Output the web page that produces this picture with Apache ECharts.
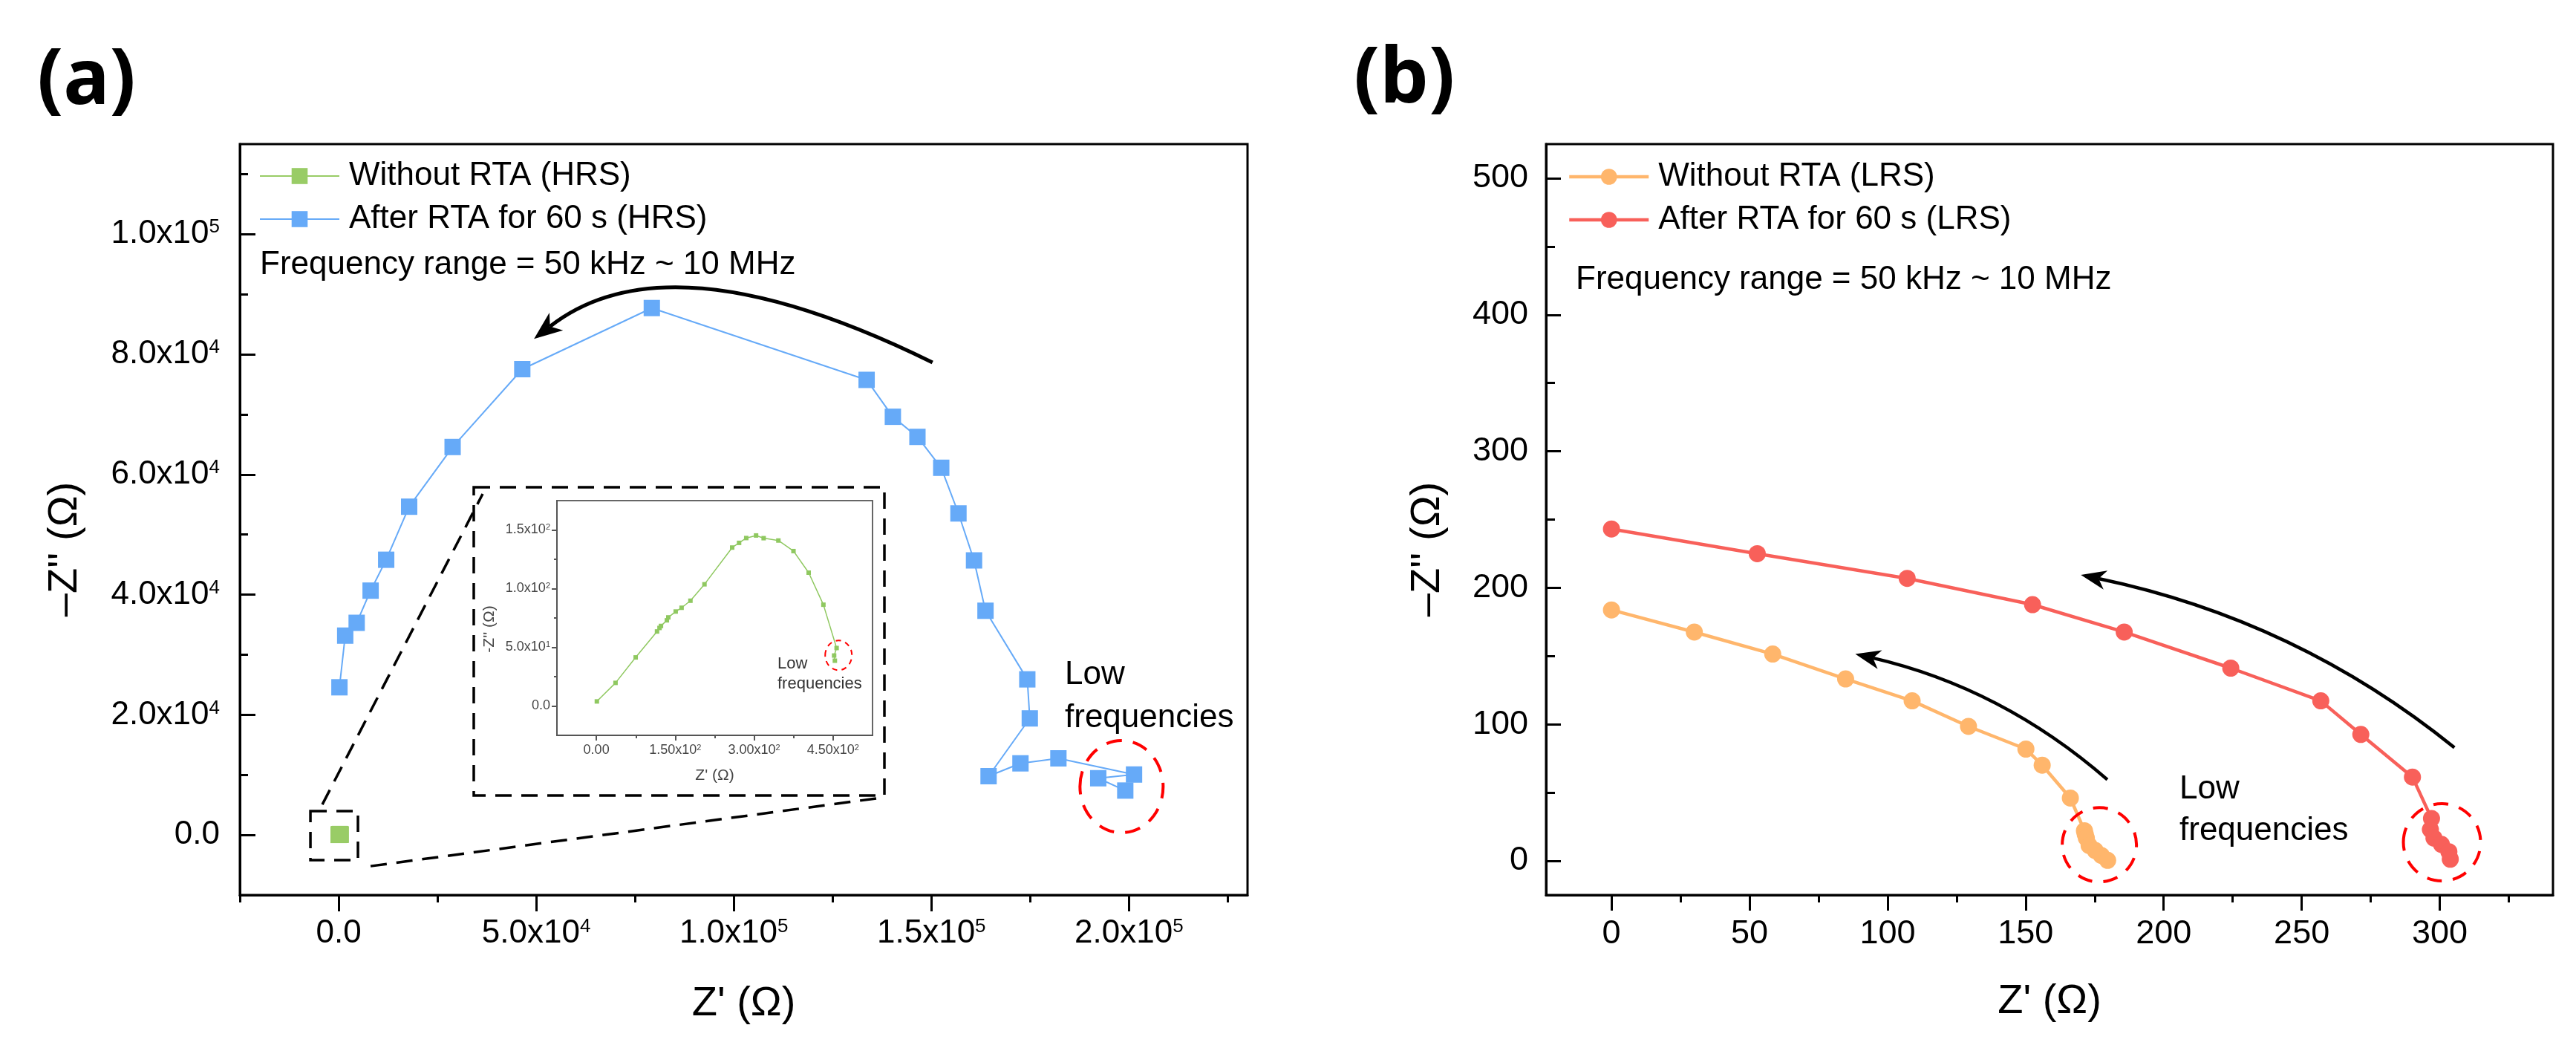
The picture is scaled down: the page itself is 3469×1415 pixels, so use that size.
<!DOCTYPE html>
<html>
<head>
<meta charset="utf-8">
<title>Nyquist plots HRS / LRS</title>
<script src="https://cdn.jsdelivr.net/npm/echarts@6/dist/echarts.min.js"></script>
<style>
html, body { margin: 0; padding: 0; background: #fff; }
#main { width: 3469px; height: 1415px; }
</style>
</head>
<body>
<div id="main"></div>
<script>
/* ---------------- data ---------------- */
// (a) HRS after RTA 60 s : Z' and -Z'' (ohm), in plotting order
let hrsAfterRe = [200, 1660, 4560, 8090, 12030, 17840, 28840, 46470, 79250, 133610, 140250, 146470, 152490,
                  156850, 160790, 163690, 174270, 174900, 164470, 172540, 182140, 201280, 192220, 199060];
let hrsAfterIm = [24580, 33180, 35310, 40670, 45810, 54640, 64580, 77540, 87710, 75750, 69610, 66260, 61120,
                  53520, 45700, 37320, 25900, 19400, 9780, 11920, 12750, 10060, 9440, 7390];
// (a) HRS without RTA (also drawn in the inset)
let hrsWithoutRe = [0.9, 36.4, 74.7, 115.3, 120, 122.8, 134, 136.8, 150.8, 162, 178.8, 205.5, 258.2, 271.3,
                    284.9, 303.6, 318, 346, 374.7, 403.6, 431.6, 456.7, 452, 453.4];
let hrsWithoutIm = [3.9, 19.7, 41.4, 63.5, 66.5, 68.2, 73, 75.5, 80.5, 83.7, 89.7, 103.7, 135, 139,
                    143.1, 145.3, 143, 141, 132, 113.6, 86.3, 49.4, 43, 38.6];
// (b) LRS without RTA
let lrsWithoutRe = [0, 30, 58.4, 84.8, 108.9, 129.3, 150.1, 156, 166.2, 171.3, 171.6, 172, 173, 175.2, 177.4, 179.7];
let lrsWithoutIm = [183.8, 167.6, 151.5, 133.3, 117.2, 98.5, 81.9, 70.1, 46, 22.1, 19.5, 16.7, 11.2, 7.6, 4, 0.4];
// (b) LRS after RTA 60 s
let lrsAfterRe = [0, 52.8, 107.1, 152.5, 185.7, 224.3, 256.9, 271.4, 290.1, 297, 296.6, 297.9, 300.6, 303.3, 303.8];
let lrsAfterIm = [243.1, 225, 206.9, 187.7, 167.6, 141.2, 117.2, 92.6, 61.4, 31.1, 23, 16.7, 12.1, 6.7, 1.25];

// tick values
let aXMajor = [0, 50000, 100000, 150000, 200000];
let aXMinor = [-25000, 25000, 75000, 125000, 175000, 225000];
let aYMajor = [0, 20000, 40000, 60000, 80000, 100000];
let aYMinor = [10000, 30000, 50000, 70000, 90000, 110000];
let bXMajor = [0, 50, 100, 150, 200, 250, 300];
let bXMinor = [25, 75, 125, 175, 225, 275, 325];
let bYMajor = [0, 100, 200, 300, 400, 500];
let bYMinor = [50, 150, 250, 350, 450];
let inXMajor = [0, 150, 300, 450];
let inXMinor = [75, 225, 375];
let inYMajor = [0, 50, 100, 150];
let inYMinor = [25, 75, 125];

let names = ['Without RTA (HRS)', 'After RTA for 60 s (HRS)', 'Without RTA (LRS)', 'After RTA for 60 s (LRS)'];
let freqText = 'Frequency range = 50 kHz ~ 10 MHz';

/* ---------------- helpers ---------------- */
const FONT = '"Liberation Sans", Arial, sans-serif';
let pairs = (xs, ys) => xs.map((x, i) => [x, ys[i]]);

// 5.0x10^4 style labels
let sciLabel = function (digits) {
    return function (v) {
        if (v === 0) return digits === 2 ? '0.00' : '0.0';
        let e = Math.floor(Math.log10(Math.abs(v)) + 1e-9);
        let m = (v / Math.pow(10, e)).toFixed(digits);
        return '{m|' + m + 'x10}{s|' + e + '}';
    };
};
let richFor = function (fs, color) {
    return {
        m: {fontSize: fs, fontFamily: FONT, color: color},
        s: {fontSize: Math.round(fs * 0.6), fontFamily: FONT, color: color, verticalAlign: 'top'}
    };
};

let valueAxis = function (o) {
    return {
        type: 'value', gridIndex: o.grid, min: o.min, max: o.max, position: o.pos,
        splitLine: {show: false},
        axisLine: {show: true, onZero: false, lineStyle: {color: o.color, width: o.lw}},
        axisTick: {show: true, inside: o.inside, length: o.tickLen, customValues: o.ticks,
                   lineStyle: {color: o.color, width: o.lw}},
        axisLabel: {show: true, customValues: o.ticks, margin: o.margin, formatter: o.fmt,
                    fontSize: o.fs, fontFamily: FONT, color: o.labelColor, rich: richFor(o.fs, o.labelColor)},
        name: o.name, nameLocation: 'middle', nameGap: o.nameGap,
        nameTextStyle: {fontSize: o.nameFs, fontFamily: FONT, color: o.labelColor, padding: o.namePad || 0}
    };
};
let minorAxis = function (o) {
    return {
        type: 'value', gridIndex: o.grid, min: o.min, max: o.max, position: o.pos,
        splitLine: {show: false},
        axisLine: {show: false, onZero: false},
        axisTick: {show: true, inside: o.inside, length: o.minorLen, customValues: o.minor,
                   lineStyle: {color: o.color, width: o.lw}},
        axisLabel: {show: false}
    };
};

/* ---------------- axes ---------------- */
let axA_x = {grid: 0, min: -25000, max: 230000, pos: 'bottom', color: '#000', lw: 3, inside: false,
             tickLen: 22, minorLen: 10, ticks: aXMajor, minor: aXMinor, margin: 30, fmt: sciLabel(1),
             fs: 44, labelColor: '#000', name: "Z' (Ω)", nameGap: 119, nameFs: 56};
let axA_y = {grid: 0, min: -10000, max: 115000, pos: 'left', color: '#000', lw: 3, inside: true,
             tickLen: 21, minorLen: 11, ticks: aYMajor, minor: aYMinor, margin: 27, fmt: sciLabel(1),
             fs: 44, labelColor: '#000', name: "–Z'' (Ω)", nameGap: 207, nameFs: 56, namePad: [0, 80, 0, 0]};
let axB_x = {grid: 1, min: -23.7, max: 341, pos: 'bottom', color: '#000', lw: 3, inside: false,
             tickLen: 21, minorLen: 10, ticks: bXMajor, minor: bXMinor, margin: 30, fmt: v => String(v),
             fs: 45, labelColor: '#000', name: "Z' (Ω)", nameGap: 116, nameFs: 56};
let axB_y = {grid: 1, min: -25, max: 525, pos: 'left', color: '#000', lw: 3, inside: true,
             tickLen: 20, minorLen: 12, ticks: bYMajor, minor: bYMinor, margin: 24, fmt: v => String(v),
             fs: 45, labelColor: '#000', name: "–Z'' (Ω)", nameGap: 131, nameFs: 56, namePad: [0, 80, 0, 0]};
let axI_x = {grid: 2, min: -75, max: 525, pos: 'bottom', color: '#555', lw: 2, inside: false,
             tickLen: 7, minorLen: 4, ticks: inXMajor, minor: inXMinor, margin: 11, fmt: sciLabel(2),
             fs: 18, labelColor: '#444', name: "Z' (Ω)", nameGap: 44, nameFs: 21};
let axI_y = {grid: 2, min: -25, max: 175, pos: 'left', color: '#555', lw: 2, inside: false,
             tickLen: 7, minorLen: 4, ticks: inYMajor, minor: inYMinor, margin: 9, fmt: sciLabel(1),
             fs: 18, labelColor: '#444', name: "-Z'' (Ω)", nameGap: 80, nameFs: 21, namePad: [0, 30, 0, 0]};

let lineSeries = function (name, xi, data, color, symbol, size, width) {
    return {
        name: name, type: 'line', xAxisIndex: xi, yAxisIndex: xi, data: data,
        symbol: symbol, symbolSize: size, showSymbol: true, showAllSymbol: true,
        itemStyle: {color: color, borderWidth: 0},
        lineStyle: {color: color, width: width},
        emphasis: {disabled: true}, z: 3
    };
};

let legendBox = function (items, left, top, lineWidth) {
    return {
        data: items, orient: 'vertical', left: left, top: top, padding: 0,
        itemWidth: 107, itemHeight: 27, itemGap: 14, selectedMode: false,
        lineStyle: {width: lineWidth},
        textStyle: {fontSize: 44, fontFamily: FONT, color: '#000', lineHeight: 44, padding: [0, 0, 0, 8]}
    };
};

let option = {
    animation: false,
    backgroundColor: '#fff',
    grid: [
        {left: 323, top: 194, width: 1357, height: 1011, show: true, borderColor: '#000', borderWidth: 3,
         backgroundColor: 'transparent', containLabel: false, outerBoundsMode: 'none'},
        {left: 2082, top: 194, width: 1356, height: 1011, show: true, borderColor: '#000', borderWidth: 3,
         backgroundColor: 'transparent', containLabel: false, outerBoundsMode: 'none'},
        {left: 750, top: 674, width: 425, height: 316, show: true, borderColor: '#666', borderWidth: 2,
         backgroundColor: 'transparent', containLabel: false, outerBoundsMode: 'none'}
    ],
    // axis index: 0 (a), 1 (b), 2 inset, 3..5 minor-tick companions
    xAxis: [valueAxis(axA_x), valueAxis(axB_x), valueAxis(axI_x), minorAxis(axA_x), minorAxis(axB_x), minorAxis(axI_x)],
    yAxis: [valueAxis(axA_y), valueAxis(axB_y), valueAxis(axI_y), minorAxis(axA_y), minorAxis(axB_y), minorAxis(axI_y)],
    legend: [
        legendBox([names[0], names[1]], 349, 215, 2),
        legendBox([names[2], names[3]], 2111, 216, 4.5)
    ],
    series: [
        lineSeries(names[1], 0, pairs(hrsAfterRe, hrsAfterIm), '#66aaf8', 'rect', 22, 2),
        lineSeries(names[0], 0, pairs(hrsWithoutRe, hrsWithoutIm), '#99cc66', 'rect', 22, 2),
        lineSeries('inset', 2, pairs(hrsWithoutRe, hrsWithoutIm), '#8fc860', 'rect', 6, 1.5),
        lineSeries(names[2], 1, pairs(lrsWithoutRe, lrsWithoutIm), '#ffb66c', 'circle', 23, 4.5),
        lineSeries(names[3], 1, pairs(lrsAfterRe, lrsAfterIm), '#f8605a', 'circle', 23, 4.5)
    ]
};

let chart = echarts.init(document.getElementById('main'));
chart.setOption(option);

/* ---------------- annotations ---------------- */
let px = (g, p) => chart.convertToPixel({gridIndex: g}, p);

let text = function (x, y, str, fs, opt) {
    opt = opt || {};
    return {
        type: 'text', x: x, y: y, silent: true, z: 10,
        style: {text: str, fontSize: fs, fontFamily: opt.family || FONT, fontWeight: opt.weight || 'normal',
                fill: opt.color || '#000', lineHeight: opt.lh, align: 'left',
                verticalAlign: opt.va || 'middle', textVerticalAlign: opt.va || 'middle'}
    };
};
let dashEllipse = function (c, rx, ry, lw, dash) {
    return {type: 'ellipse', silent: true, z: 9, shape: {cx: c[0], cy: c[1], rx: rx, ry: ry},
            style: {stroke: '#ff0000', lineWidth: lw, lineDash: dash, fill: null}};
};
let arrow = function (p0, c, p1, lw, L, W) {
    let dx = p1[0] - c[0], dy = p1[1] - c[1], len = Math.hypot(dx, dy);
    dx /= len; dy /= len;
    let nx = -dy, ny = dx;
    let bx = p1[0] - dx * L, by = p1[1] - dy * L;
    let notch = [p1[0] - dx * L * 0.72, p1[1] - dy * L * 0.72];
    return [
        {type: 'bezierCurve', silent: true, z: 9,
         shape: {x1: p0[0], y1: p0[1], cpx1: c[0], cpy1: c[1], x2: notch[0], y2: notch[1]},
         style: {stroke: '#000', lineWidth: lw, fill: null}},
        {type: 'polygon', silent: true, z: 9,
         shape: {points: [p1, [bx + nx * W, by + ny * W], notch, [bx - nx * W, by - ny * W]]},
         style: {fill: '#000'}}
    ];
};
let dashStyle = {stroke: '#000', lineWidth: 3.5, lineDash: [22, 13], fill: null};

let g = [];
g.push(text(50, 110, '(a)', 104, {family: '"Noto Sans", "DejaVu Sans", sans-serif', weight: 'bold'}));
g.push(text(1823, 108, '(b)', 104, {family: '"Noto Sans", "DejaVu Sans", sans-serif', weight: 'bold'}));
g.push(text(350, 357, freqText, 44));
g.push(text(2122, 377, freqText, 44));
g.push(text(1434, 880, 'Low\nfrequencies', 44, {lh: 58, va: 'top'}));
g.push(text(2935, 1035, 'Low\nfrequencies', 44, {lh: 56, va: 'top'}));
g.push(text(1047, 880, 'Low\nfrequencies', 22, {lh: 27, va: 'top', color: '#333'}));

// red dashed circles around the low-frequency ends
g.push(dashEllipse(px(0, [198120, 8040]), 56, 62, 4, [21, 15]));
g.push(dashEllipse(px(2, [460.4, 43.2]), 18, 20, 2, [7, 6]));
g.push(dashEllipse(px(1, [176.7, 11.8]), 50, 50, 4, [20, 15]));
g.push(dashEllipse(px(1, [300.8, 13.6]), 52, 52, 4, [20, 15]));

// frequency direction arrows (tail, control, head in data units)
g = g.concat(arrow(px(0, [150280, 78660]), px(0, [83740, 100220]), px(0, [49440, 82570]), 5, 38, 15));
g = g.concat(arrow(px(1, [179.6, 59.5]), px(1, [141.4, 126.6]), px(1, [88.3, 151.6]), 4.5, 34, 13));
g = g.concat(arrow(px(1, [305.3, 83]), px(1, [248.2, 176.4]), px(1, [170, 209.5]), 4.5, 34, 13));

// zoom box around the origin and the inset frame
let o = px(0, [0, 0]);
let inL = 750, inT = 674, inR = 1175, inB = 990;
let frame = [inL - 112, inT - 18, inR + 16, inB + 81];
g.push({type: 'rect', silent: true, z: 8, shape: {x: o[0] - 38, y: o[1] - 32, width: 64, height: 66}, style: dashStyle});
g.push({type: 'rect', silent: true, z: 8, shape: {x: frame[0], y: frame[1], width: frame[2] - frame[0], height: frame[3] - frame[1]}, style: dashStyle});
g.push({type: 'line', silent: true, z: 8, shape: {x1: o[0] - 22, y1: o[1] - 41, x2: frame[0] + 12, y2: frame[1] + 9}, style: dashStyle});
g.push({type: 'line', silent: true, z: 8, shape: {x1: o[0] + 43, y1: o[1] + 42, x2: frame[2] - 4, y2: frame[3] + 3}, style: dashStyle});

chart.setOption({graphic: g});
</script>
</body>
</html>
